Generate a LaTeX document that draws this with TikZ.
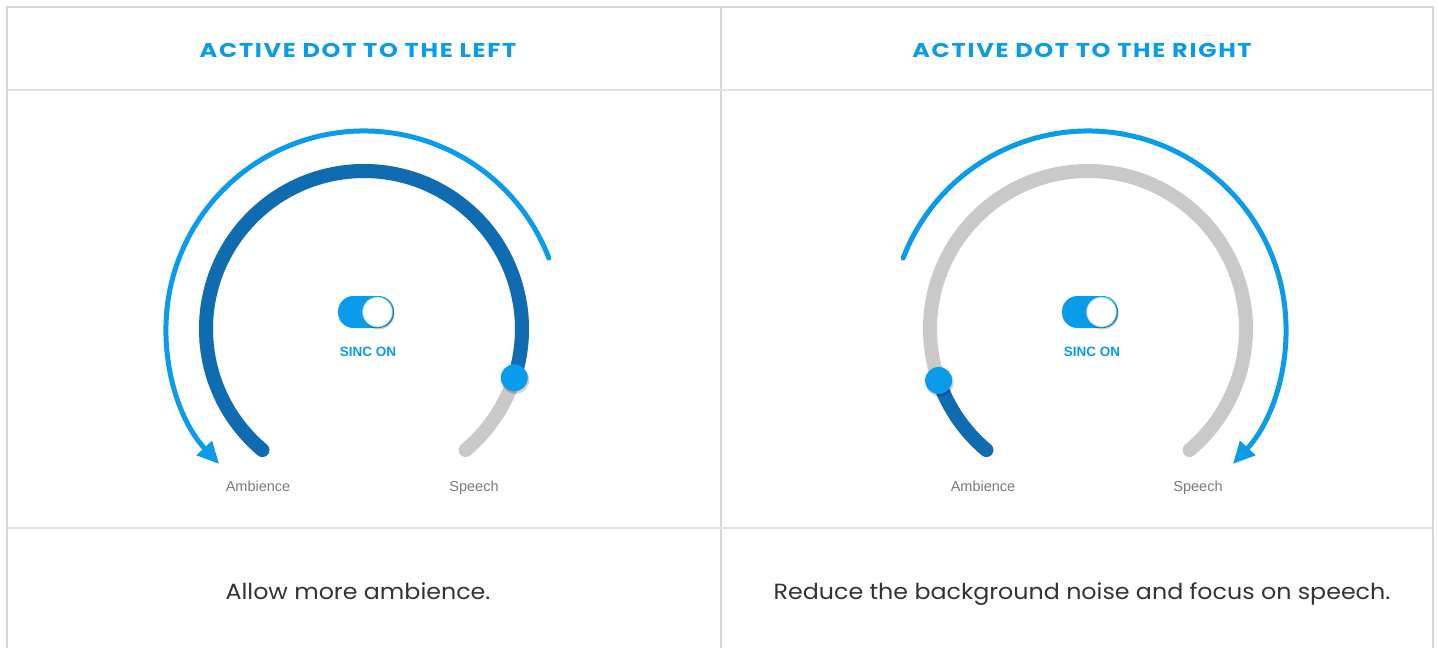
\documentclass[tikz,border=0pt]{standalone}
\usepackage{graphicx}
\usepackage{fontspec}
\setmainfont{Liberation Sans}
\newfontfamily\gfont{Poppins}
\newfontfamily\gtitlefont{Poppins}[LetterSpace=7]
\usetikzlibrary{arrows.meta,calc}
\definecolor{lblue}{HTML}{0A9BEA}
\definecolor{dblue}{HTML}{106CB0}
\definecolor{track}{HTML}{C9C9C9}
\definecolor{rule}{HTML}{D6D6D6}
\definecolor{rulelight}{HTML}{E2E2E2}
\definecolor{labelgray}{HTML}{7A7A7A}
\definecolor{bodytext}{HTML}{333333}
\newcommand{\widetitle}[1]{\scalebox{1.2}[1]{#1}}
\newcommand{\widebody}[1]{\scalebox{1.08}[1]{#1}}
\tikzset{
  trackarc/.style={line width=14pt, line cap=round, track},
  activearc/.style={line width=14pt, line cap=round, dblue},
  outerarc/.style={line width=5pt, line cap=round, lblue, -{Triangle[length=22pt,width=20pt]}},
  knob/.style={circle, fill=lblue, minimum size=27pt, inner sep=0pt},
  knobshadow/.style={circle, fill=black, opacity=0.18, minimum size=28pt, inner sep=0pt},
  title/.style={font=\gtitlefont\bfseries\fontsize{20}{24}\selectfont, text=lblue, anchor=center},
  body/.style={font=\gfont\fontsize{22}{26}\selectfont, text=bodytext, anchor=base},
  dlabel/.style={font=\fontsize{14.5}{17}\selectfont, text=labelgray, anchor=base},
  sinc/.style={font=\bfseries\fontsize{13.5}{16}\selectfont, text=lblue, anchor=center},
  togglebtn/.style={circle, fill=white, draw=lblue!60, line width=0.6pt, minimum size=30pt, inner sep=0pt},
}
\begin{document}
\begin{tikzpicture}[x=1pt,y=-1pt]
\useasboundingbox (0,0) rectangle (1438,648);
% table
\draw[rule, line width=1.5pt] (7,648) -- (7,7) -- (1433,7) -- (1433,648);
\draw[rule, line width=1.5pt] (721,7) -- (721,648);
\draw[rulelight, line width=1.5pt] (7,90) -- (1433,90);
\draw[rulelight, line width=1.5pt] (7,528) -- (1433,528);
% titles
\node[title] (t1) at (358,50) {\widetitle{ACTIVE DOT TO THE LEFT}};
\node[title] (t2) at (1082,50) {\widetitle{ACTIVE DOT TO THE RIGHT}};
% bottom text
\node[body] (b1) at (358,599) {\widebody{Allow more ambience.}};
\node[body] (b2) at (1082,599) {\widebody{Reduce the background noise and focus on speech.}};
% ---------- left dial
\coordinate (c1) at (364,329);
\draw[trackarc] (c1) ++(-230:158) arc[start angle=-230, end angle=50, radius=158];
\draw[activearc] (c1) ++(-230:158) arc[start angle=-230, end angle=18, radius=158];
\draw[outerarc] (c1) ++(-21:198) arc[start angle=-21, end angle=-223, radius=198];
\node[knobshadow] (s1) at ($(c1)+(18:158)+(1,2)$) {};
\node[knob] (k1) at ($(c1)+(18:158)$) {};
% toggle
\fill[lblue, rounded corners=15.5pt] (338,296) rectangle (394,328);
\fill[black, opacity=0.18] (379,314) circle (15.5);
\node[togglebtn] (tk1) at (377.5,312) {};
\node[sinc] (sl1) at (368,352) {SINC ON};
\node[dlabel] (a1) at (258,491) {Ambience};
\node[dlabel] (sp1) at (474,491) {Speech};
% ---------- right dial
\coordinate (c2) at (1088,329);
\draw[trackarc] (c2) ++(-230:158) arc[start angle=-230, end angle=50, radius=158];
\draw[activearc] (c2) ++(-230:158) arc[start angle=-230, end angle=-199, radius=158];
\draw[outerarc] (c2) ++(-159:198) arc[start angle=-159, end angle=43, radius=198];
\node[knobshadow] (s2) at ($(c2)+(-199:158)+(1,2)$) {};
\node[knob] (k2) at ($(c2)+(-199:158)$) {};
\fill[lblue, rounded corners=15.5pt] (1062,296) rectangle (1118,328);
\fill[black, opacity=0.18] (1103,314) circle (15.5);
\node[togglebtn] (tk2) at (1101.5,312) {};
\node[sinc] (sl2) at (1092,352) {SINC ON};
\node[dlabel] (a2) at (983,491) {Ambience};
\node[dlabel] (sp2) at (1198,491) {Speech};
\end{tikzpicture}
\end{document}
